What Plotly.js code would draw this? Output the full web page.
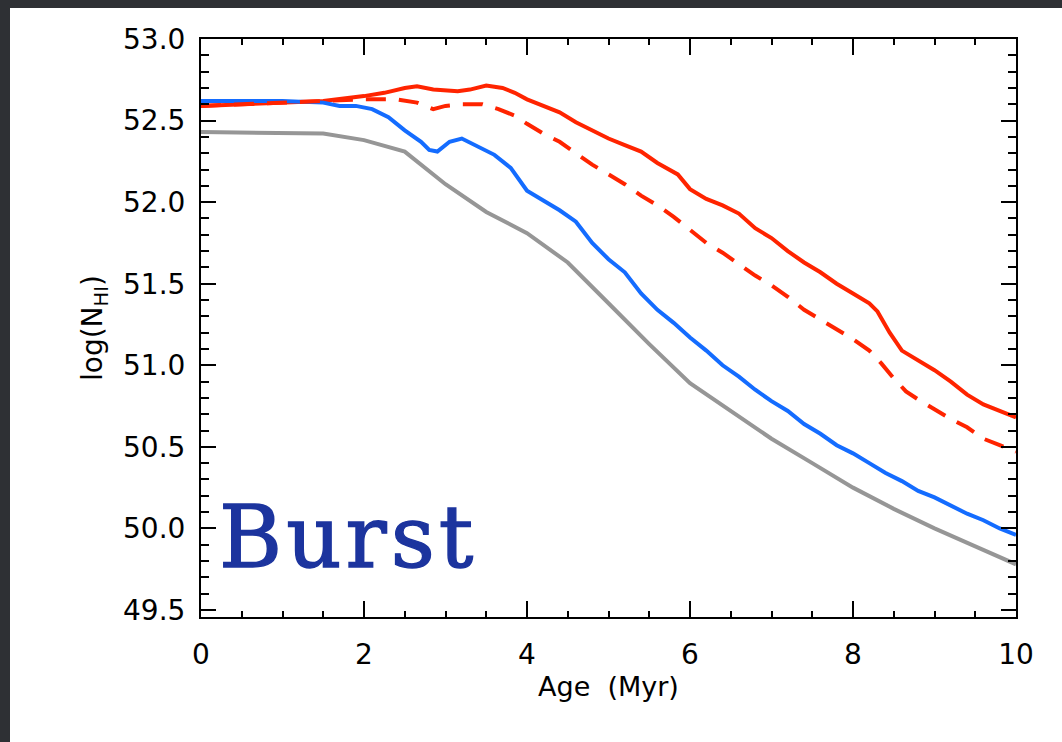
<!DOCTYPE html>
<html>
<head>
<meta charset="utf-8">
<script src="https://cdn.plot.ly/plotly-3.0.1.min.js"></script>
<style>
html, body { margin: 0; padding: 0; background: #2e3034; width: 1062px; height: 742px; overflow: hidden; }
#chart { position: absolute; left: 10px; top: 8px; width: 1052px; height: 734px; background: #ffffff; }
.annotation-text { letter-spacing: 4px; stroke: #1c349e; stroke-width: 1.4px; }
</style>
</head>
<body>
<div id="chart"></div>
<script>
// Age (Myr) and log(N_HI) values
const grayX = [0, 1.5, 2.0, 2.5, 3.0, 3.5, 4.0, 4.5, 5.0, 5.5, 6.0, 6.5, 7.0, 7.5, 8.0, 8.5, 9.0, 9.5, 10];
const grayY = [52.43, 52.42, 52.38, 52.31, 52.11, 51.94, 51.81, 51.63, 51.38, 51.13, 50.89, 50.72, 50.55, 50.40, 50.25, 50.12, 50.00, 49.89, 49.78];

const blueX = [0, 0.5, 1.0, 1.5, 1.7, 1.9, 2.1, 2.3, 2.5, 2.7, 2.8, 2.9, 3.05, 3.2, 3.4, 3.6, 3.8, 4.0, 4.2, 4.4, 4.6, 4.8, 5.0, 5.2, 5.4, 5.6, 5.8, 6.0, 6.2, 6.4, 6.6, 6.8, 7.0, 7.2, 7.4, 7.6, 7.8, 8.0, 8.2, 8.4, 8.6, 8.8, 9.0, 9.2, 9.4, 9.6, 9.8, 10];
const blueY = [52.62, 52.62, 52.62, 52.61, 52.59, 52.59, 52.57, 52.52, 52.44, 52.37, 52.32, 52.31, 52.37, 52.39, 52.34, 52.29, 52.21, 52.07, 52.01, 51.95, 51.88, 51.75, 51.65, 51.57, 51.44, 51.34, 51.26, 51.17, 51.09, 51.00, 50.93, 50.85, 50.78, 50.72, 50.64, 50.58, 50.51, 50.46, 50.40, 50.34, 50.29, 50.23, 50.19, 50.14, 50.09, 50.05, 50.00, 49.96];

const redX = [0, 0.5, 1.0, 1.5, 2.0, 2.25, 2.5, 2.65, 2.85, 3.15, 3.3, 3.5, 3.7, 3.85, 4.0, 4.2, 4.4, 4.6, 4.8, 5.0, 5.2, 5.4, 5.6, 5.85, 6.0, 6.2, 6.4, 6.6, 6.8, 7.0, 7.2, 7.4, 7.6, 7.8, 8.0, 8.2, 8.3, 8.45, 8.6, 8.8, 9.0, 9.2, 9.4, 9.6, 9.8, 10];
const redY = [52.59, 52.60, 52.61, 52.62, 52.65, 52.67, 52.70, 52.71, 52.69, 52.68, 52.69, 52.715, 52.70, 52.67, 52.63, 52.59, 52.55, 52.49, 52.44, 52.39, 52.35, 52.31, 52.24, 52.17, 52.08, 52.02, 51.98, 51.93, 51.84, 51.78, 51.70, 51.63, 51.57, 51.50, 51.44, 51.38, 51.33, 51.20, 51.09, 51.03, 50.97, 50.90, 50.82, 50.76, 50.72, 50.68];

const redDashX = [0, 0.5, 1.0, 1.5, 2.0, 2.4, 2.65, 2.85, 3.0, 3.2, 3.45, 3.65, 3.85, 4.0, 4.2, 4.4, 4.6, 4.8, 5.0, 5.2, 5.4, 5.6, 5.8, 6.0, 6.2, 6.4, 6.6, 6.8, 7.0, 7.2, 7.4, 7.6, 7.8, 8.0, 8.2, 8.35, 8.5, 8.65, 8.8, 9.0, 9.2, 9.4, 9.6, 9.8, 10];
const redDashY = [52.59, 52.60, 52.61, 52.62, 52.63, 52.63, 52.61, 52.57, 52.59, 52.60, 52.60, 52.57, 52.53, 52.48, 52.42, 52.37, 52.30, 52.23, 52.17, 52.11, 52.04, 51.98, 51.91, 51.83, 51.75, 51.69, 51.62, 51.55, 51.49, 51.42, 51.34, 51.28, 51.22, 51.16, 51.09, 51.01, 50.92, 50.84, 50.79, 50.73, 50.67, 50.62, 50.55, 50.51, 50.47];

const xTickVals = [0, 2, 4, 6, 8, 10];
const yTickVals = [49.5, 50.0, 50.5, 51.0, 51.5, 52.0, 52.5, 53.0];
const yTickText = ['49.5', '50.0', '50.5', '51.0', '51.5', '52.0', '52.5', '53.0'];
const labelText = 'Burst';

const lw = 4;
const traces = [
  { x: grayX, y: grayY, mode: 'lines', line: { color: '#969696', width: lw }, hoverinfo: 'skip' },
  { x: redX, y: redY, mode: 'lines', line: { color: '#ff2400', width: lw }, hoverinfo: 'skip' },
  { x: blueX, y: blueY, mode: 'lines', line: { color: '#146cff', width: lw }, hoverinfo: 'skip' },
  { x: redDashX, y: redDashY, mode: 'lines', line: { color: '#ff2400', width: lw, dash: '20px,13px' }, hoverinfo: 'skip' }
];

const tickFont = { family: 'DejaVu Sans', size: 28, color: '#000000' };

const layout = {
  width: 1052, height: 734,
  paper_bgcolor: '#ffffff', plot_bgcolor: '#ffffff',
  showlegend: false,
  margin: { l: 191, r: 46, t: 31, b: 125 },
  xaxis: {
    range: [0, 10], autorange: false,
    tickvals: xTickVals, ticktext: xTickVals.map(String),
    ticks: 'inside', ticklen: 16, tickwidth: 2, tickcolor: '#000',
    minor: { dtick: 0.5, ticks: 'inside', ticklen: 6, tickwidth: 2, tickcolor: '#000' },
    showline: true, linecolor: '#000', linewidth: 2, mirror: 'allticks',
    showgrid: false, zeroline: false,
    tickfont: tickFont, ticklabelstandoff: 11,
    title: { text: 'Age&nbsp;&nbsp;(Myr)', font: { family: 'DejaVu Sans', size: 27, color: '#000' }, standoff: 8 }
  },
  yaxis: {
    range: [49.457, 53.0], autorange: false,
    tickvals: yTickVals, ticktext: yTickText,
    ticks: 'inside', ticklen: 15, tickwidth: 2, tickcolor: '#000',
    minor: { dtick: 0.1, tick0: 49.5, ticks: 'inside', ticklen: 8, tickwidth: 2, tickcolor: '#000' },
    showline: true, linecolor: '#000', linewidth: 2, mirror: 'allticks',
    showgrid: false, zeroline: false,
    tickfont: tickFont, ticklabelstandoff: 8,
    title: { text: 'log(N<sub>HI</sub>)', font: { family: 'DejaVu Sans', size: 28, color: '#000' }, standoff: 12 }
  },
  annotations: [
    { x: 0.2, y: 49.75, xref: 'x', yref: 'y', xanchor: 'left', yanchor: 'bottom', yshift: -20,
      text: labelText, showarrow: false,
      font: { family: 'DejaVu Serif', size: 86, color: '#1c349e' } }
  ]
};

Plotly.newPlot('chart', traces, layout, { staticPlot: true, displayModeBar: false });
</script>
</body>
</html>
